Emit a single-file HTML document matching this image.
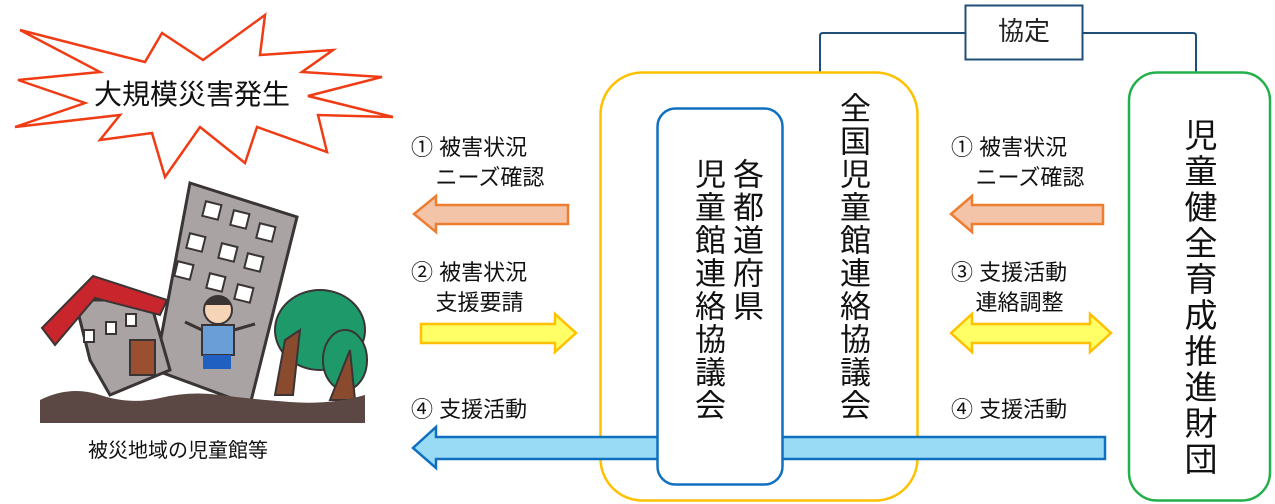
<!DOCTYPE html>
<html><head><meta charset="utf-8"><style>
body{margin:0;width:1275px;height:504px;background:#fff;overflow:hidden;position:relative;font-family:"Liberation Sans","Noto Sans CJK JP",sans-serif;color:#111}
.a{position:absolute}
.lbl{position:absolute;font-size:22px;line-height:30px;white-space:nowrap}
.v{position:absolute;writing-mode:vertical-rl;font-size:31px;line-height:36px;letter-spacing:2px}
</style></head><body>
<svg class="a" style="left:0;top:0" width="1275" height="504">
<polygon points="20,30 145,62 162,33 203,60 265,15 260,55 333,50 302,72 382,77 308,96 393,117 318,115 327,152 257,127 245,163 200,127 165,177 152,133 100,140 120,115 15,127 85,103 18,80 100,72" fill="#fff" stroke="#f03c14" stroke-width="2.5"/>
<polygon points="190,183 297,217 250,405 155,370" fill="#a9a4a3" stroke="#3a3434" stroke-width="3"/>
<g fill="#fff" stroke="#3a3434" stroke-width="2">
<rect x="204" y="203" width="16" height="15" transform="rotate(14 212 210)"/><rect x="232" y="212" width="16" height="15" transform="rotate(14 240 219)"/><rect x="258" y="225" width="16" height="15" transform="rotate(14 266 232)"/>
<rect x="188" y="235" width="16" height="15" transform="rotate(14 196 242)"/><rect x="220" y="245" width="16" height="15" transform="rotate(14 228 252)"/><rect x="246" y="255" width="16" height="15" transform="rotate(14 254 262)"/>
<rect x="176" y="263" width="16" height="15" transform="rotate(14 184 270)"/><rect x="208" y="275" width="16" height="15" transform="rotate(14 216 282)"/><rect x="236" y="286" width="16" height="15" transform="rotate(14 244 293)"/>
</g>
<polygon points="75,300 150,300 170,370 110,395 90,360" fill="#a9a4a3" stroke="#3a3434" stroke-width="3"/>
<polygon points="42,328 93,276 167,300 160,315 95,298 55,345" fill="#c8252c" stroke="#3a3434" stroke-width="2"/>
<rect x="130" y="340" width="25" height="35" fill="#9a5030" stroke="#3a3434" stroke-width="2"/>
<g fill="#fff" stroke="#3a3434" stroke-width="2"><rect x="84" y="330" width="10" height="12"/><rect x="106" y="322" width="10" height="12"/><rect x="126" y="314" width="10" height="12"/></g>
<ellipse cx="320" cy="330" rx="45" ry="40" fill="#1e9a6a" stroke="#3a3434" stroke-width="2"/>
<ellipse cx="345" cy="360" rx="22" ry="30" fill="#1e9a6a" stroke="#3a3434" stroke-width="2"/>
<path d="M275,395 L285,340 L300,330 L293,395 Z M330,400 L350,350 L355,400 Z" fill="#8a4a2e" stroke="#3a3434" stroke-width="2"/>
<circle cx="218" cy="310" r="14" fill="#f5d4b8" stroke="#3a3434" stroke-width="2"/>
<path d="M204,305 Q218,288 232,305 Z" fill="#3a3434"/>
<rect x="202" y="325" width="32" height="30" fill="#6a9ed6" stroke="#3a3434" stroke-width="2"/>
<rect x="203" y="355" width="28" height="14" fill="#2060c0"/>
<line x1="202" y1="330" x2="185" y2="322" stroke="#3a3434" stroke-width="3"/><line x1="234" y1="330" x2="255" y2="324" stroke="#3a3434" stroke-width="3"/>
<path d="M40,400 Q70,385 100,395 T160,398 T220,395 T290,402 T365,395 L365,423 L40,423 Z" fill="#5b4743"/>
<path d="M820,72 V36 Q820,33 823,33 H965 M1083,33 H1193 Q1196,33 1196,36 V72" fill="none" stroke="#1f4e79" stroke-width="2"/>
<rect x="600.5" y="72.5" width="317" height="428" rx="42" fill="#fff" stroke="#ffc000" stroke-width="2.5"/>
<rect x="1129" y="72.5" width="141" height="428" rx="28" fill="#fff" stroke="#22b04a" stroke-width="2.5"/>
<polygon points="568,205 436,205 436,196 414,214 436,232 436,224 568,224" fill="#f4c4a8" stroke="#ed7d31" stroke-width="2.5"/>
<polygon points="421,324 555,324 555,314 576,333 555,352 555,343 421,343" fill="#ffff66" stroke="#ffc000" stroke-width="2.5"/>
<polygon points="1103,205 972,205 972,196 951,214 972,232 972,224 1103,224" fill="#f4c4a8" stroke="#ed7d31" stroke-width="2.5"/>
<polygon points="951,333 972,314 972,324 1090,324 1090,314 1111,333 1090,352 1090,343 972,343 972,352" fill="#ffff66" stroke="#ffc000" stroke-width="2.5"/>
<polygon points="1105,437 436,437 436,427 413,448 436,468 436,459 1105,459" fill="#99dbf5" stroke="#1070c0" stroke-width="2.5"/>
<rect x="657.5" y="108.5" width="125" height="376" rx="18" fill="#fff" stroke="#1070c0" stroke-width="2.5"/>
<rect x="965.5" y="5.5" width="117" height="54" fill="#fff" stroke="#1f4e79" stroke-width="2"/>
</svg>
<div class="a" style="left:94px;top:77px;font-size:28px;line-height:36px;white-space:nowrap">大規模災害発生</div>
<div class="a" style="left:88px;top:437px;font-size:20px;line-height:28px;white-space:nowrap">被災地域の児童館等</div>
<div class="a" style="left:965px;top:13px;width:118px;text-align:center;font-size:26px;line-height:36px;color:#222">協定</div>
<div class="lbl" style="left:411px;top:133px">① 被害状況<br>&nbsp;&nbsp;&nbsp;&nbsp;ニーズ確認</div>
<div class="lbl" style="left:411px;top:258px">② 被害状況<br>&nbsp;&nbsp;&nbsp;&nbsp;支援要請</div>
<div class="lbl" style="left:411px;top:395px">④ 支援活動</div>
<div class="lbl" style="left:951px;top:133px">① 被害状況<br>&nbsp;&nbsp;&nbsp;&nbsp;ニーズ確認</div>
<div class="lbl" style="left:951px;top:258px">③ 支援活動<br>&nbsp;&nbsp;&nbsp;&nbsp;連絡調整</div>
<div class="lbl" style="left:951px;top:395px">④ 支援活動</div>
<div class="v" style="left:688px;top:158px;line-height:38px">各都道府県<br>児童館連絡協議会</div>
<div class="v" style="left:834px;top:92px">全国児童館連絡協議会</div>
<div class="v" style="left:1180px;top:118px;font-size:33px;letter-spacing:3px">児童健全育成推進財団</div>
</body></html>
